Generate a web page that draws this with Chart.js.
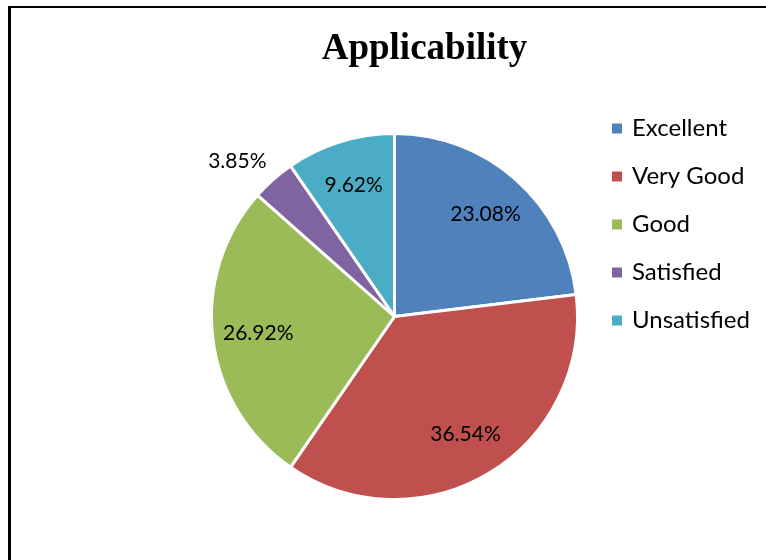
<!DOCTYPE html>
<html><head><meta charset="utf-8">
<script src="https://cdn.jsdelivr.net/npm/chart.js@4.4.1/dist/chart.umd.min.js"></script>
<style>
html,body{margin:0;padding:0;background:#fff;overflow:hidden;width:766px;height:560px;}
#frame{position:absolute;left:8px;top:6px;width:900px;height:700px;border-top:2px solid #000;border-left:3px solid #000;box-sizing:border-box;}
#c{position:absolute;left:0;top:0;}
</style></head><body>
<div id="frame"></div>
<canvas id="c" width="766" height="560"></canvas>
<script>
const chartTitle = 'Applicability';
const categories = ['Excellent', 'Very Good', 'Good', 'Satisfied', 'Unsatisfied'];
const percentages = [23.08, 36.54, 26.92, 3.85, 9.62];
const sliceColors = ['#4F81BD', '#C0504D', '#9BBB59', '#8064A2', '#4BACC6'];

const sliceLabelPlugin = {
  id: 'sliceLabels',
  afterDatasetsDraw(chart) {
    const ctx = chart.ctx;
    const meta = chart.getDatasetMeta(0);
    ctx.save();
    ctx.fillStyle = '#000';
    ctx.font = '21px Lato';
    meta.data.forEach((arc, i) => {
      const p = arc.getProps(['x', 'y', 'startAngle', 'endAngle', 'outerRadius'], true);
      const mid = (p.startAngle + p.endAngle) / 2;
      const span = p.endAngle - p.startAngle;
      const txt = chart.data.datasets[0].data[i].toFixed(2) + '%';
      const c = Math.cos(mid), s = Math.sin(mid);
      if (span < 0.3) {
        const r = p.outerRadius + 10;
        ctx.textAlign = c < 0 ? 'right' : 'left';
        ctx.textBaseline = s < 0 ? 'bottom' : 'top';
        ctx.fillText(txt, p.x + c * r, p.y + s * r);
      } else {
        const r = p.outerRadius * 0.75;
        ctx.textAlign = 'center';
        ctx.textBaseline = 'middle';
        ctx.fillText(txt, p.x + c * r, p.y + s * r);
      }
    });
    ctx.restore();
  }
};

const titleLegendPlugin = {
  id: 'titleLegend',
  afterDraw(chart) {
    const ctx = chart.ctx;
    ctx.save();
    ctx.fillStyle = '#000';
    ctx.font = 'bold 37px "Liberation Serif"';
    ctx.textAlign = 'center';
    ctx.textBaseline = 'alphabetic';
    ctx.fillText(chartTitle, 424.5, 59);
    const items = chart.options.plugins.legend.labels.generateLabels(chart);
    ctx.font = '24px Lato';
    ctx.textAlign = 'left';
    ctx.textBaseline = 'middle';
    items.forEach((it, i) => {
      const cy = 128.5 + i * 48;
      ctx.fillStyle = it.fillStyle;
      ctx.fillRect(612, cy - 5, 10, 10);
      ctx.fillStyle = '#000';
      ctx.fillText(it.text, 632, cy);
    });
    ctx.restore();
  }
};

new Chart(document.getElementById('c'), {
  type: 'pie',
  data: {
    labels: categories,
    datasets: [{
      data: percentages,
      backgroundColor: sliceColors,
      borderColor: '#FFFFFF',
      borderWidth: 3
    }]
  },
  options: {
    responsive: false,
    animation: false,
    layout: { padding: { left: 210, right: 187, top: 132, bottom: 59 } },
    plugins: {
      legend: { display: false },
      title: { display: false },
      tooltip: { enabled: false }
    }
  },
  plugins: [sliceLabelPlugin, titleLegendPlugin]
});
</script>
</body></html>
